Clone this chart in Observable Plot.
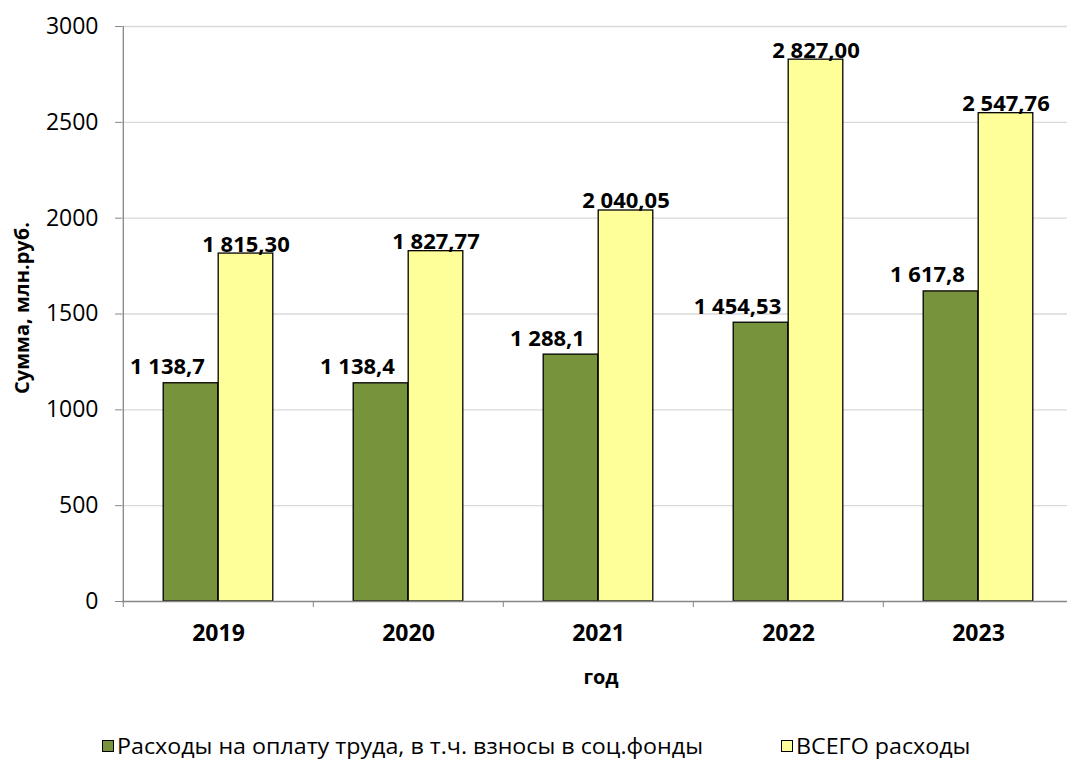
<!DOCTYPE html>
<html>
<head>
<meta charset="utf-8">
<script src="https://cdn.jsdelivr.net/npm/d3@7"></script>
<script src="https://cdn.jsdelivr.net/npm/@observablehq/plot@0.6"></script>
<style>
  html, body { margin: 0; padding: 0; background: #fff; }
  #wrap { position: relative; width: 1067px; height: 760px; font-family: "Open Sans", sans-serif; overflow: hidden; }
  .leg { position: absolute; display: flex; align-items: center; color: #000; white-space: nowrap; line-height: 1; }
  .sw { width: 10px; height: 10px; border: 1px solid #000; margin-right: 3px; flex: none; }
  .lt { display: inline-block; transform-origin: left center; }
</style>
</head>
<body>
<div id="wrap"></div>
<script>
const years = ["2019", "2020", "2021", "2022", "2023"];
const seriesNames = ["Расходы на оплату труда, в т.ч. взносы в соц.фонды", "ВСЕГО расходы"];
const wages = [1138.7, 1138.4, 1288.1, 1454.53, 1617.8];
const wagesLabels = ["1 138,7", "1 138,4", "1 288,1", "1 454,53", "1 617,8"];
const total = [1815.30, 1827.77, 2040.05, 2827.00, 2547.76];
const totalLabels = ["1 815,30", "1 827,77", "2 040,05", "2 827,00", "2 547,76"];
const yTicks = [0, 500, 1000, 1500, 2000, 2500, 3000];
const colors = ["#77933C", "#FFFF99"];

const wData = years.map((y, i) => ({year: y, value: wages[i], label: wagesLabels[i]}));
const tData = years.map((y, i) => ({year: y, value: total[i], label: totalLabels[i]}));

const bw = (1074 - 122) / years.length;
const barW = 55;

const chart = Plot.plot({
  width: 1067,
  height: 715,
  marginTop: 26,
  marginBottom: 114,
  marginLeft: 122,
  marginRight: 0,
  style: {fontFamily: "Open Sans, sans-serif", color: "#000", background: "#fff"},
  x: {domain: years, range: [122, 1074], padding: 0},
  y: {domain: [0, 3000], ticks: yTicks},
  marks: [
    Plot.ruleY(yTicks.filter(d => d > 0), {stroke: "#d9d9d9", strokeWidth: 1.3}),
    Plot.barY(wData, {x: "year", y: "value", fill: colors[0], stroke: "#000", strokeWidth: 1.3,
      insetLeft: bw / 2 - barW, insetRight: bw / 2}),
    Plot.barY(tData, {x: "year", y: "value", fill: colors[1], stroke: "#000", strokeWidth: 1.3,
      insetLeft: bw / 2, insetRight: bw / 2 - barW}),
    Plot.ruleY([0], {stroke: "#868686", strokeWidth: 1.3}),
    Plot.ruleX(years.slice(0, 1), {x: d => d, dx: -bw / 2, y1: 0, y2: 3000, stroke: "#868686", strokeWidth: 1.3}),
    Plot.axisY({ticks: yTicks, tickSize: 7, tickPadding: 17, fontSize: 23, stroke: "#868686", label: null, tickFormat: d => String(d)}),
    Plot.axisX({tickSize: 6, dx: -bw / 2, text: null, stroke: "#868686", label: null}),
    Plot.axisX({tickSize: 0, tickPadding: 23, fontSize: 23, fontWeight: "bold", label: null}),
    Plot.text(wData, {x: "year", y: "value", text: "label", dx: -51, dy: -9, lineAnchor: "bottom",
      fontSize: 22, fontWeight: "bold", fill: "#000"}),
    Plot.text(tData, {x: "year", y: "value", text: "label", dx: barW / 2, dy: -2, lineAnchor: "bottom",
      fontSize: 22, fontWeight: "bold", fill: "#000"}),
    Plot.text(["год"], {frameAnchor: "bottom", dx: 6, dy: 82, lineAnchor: "bottom", fontSize: 20, fontWeight: "bold", fill: "#000"}),
    Plot.text(["Сумма, млн.руб."], {frameAnchor: "left", textAnchor: "middle", dx: -100, dy: -6, rotate: -90, fontSize: 20, fontWeight: "bold", fill: "#000"})
  ]
});

const wrap = document.getElementById("wrap");
wrap.appendChild(chart);

// legend: stretch Open Sans to the reference text width
const legFont = '"Open Sans", sans-serif';
const legSize = 21;
const ctx = document.createElement("canvas").getContext("2d");
ctx.font = `${legSize}px ${legFont}`;
const k = 586 / ctx.measureText(seriesNames[0]).width;

const legPos = [102, 781];
seriesNames.forEach((name, i) => {
  const d = document.createElement("div");
  d.className = "leg";
  d.style.left = legPos[i] + "px";
  d.style.top = (746 - legSize / 2) + "px";
  d.style.fontFamily = legFont;
  d.style.fontSize = legSize + "px";
  const sw = document.createElement("span");
  sw.className = "sw";
  sw.style.background = colors[i];
  const t = document.createElement("span");
  t.className = "lt";
  t.style.transform = `scaleX(${k})`;
  t.textContent = name;
  d.appendChild(sw);
  d.appendChild(t);
  wrap.appendChild(d);
});
</script>
</body>
</html>
